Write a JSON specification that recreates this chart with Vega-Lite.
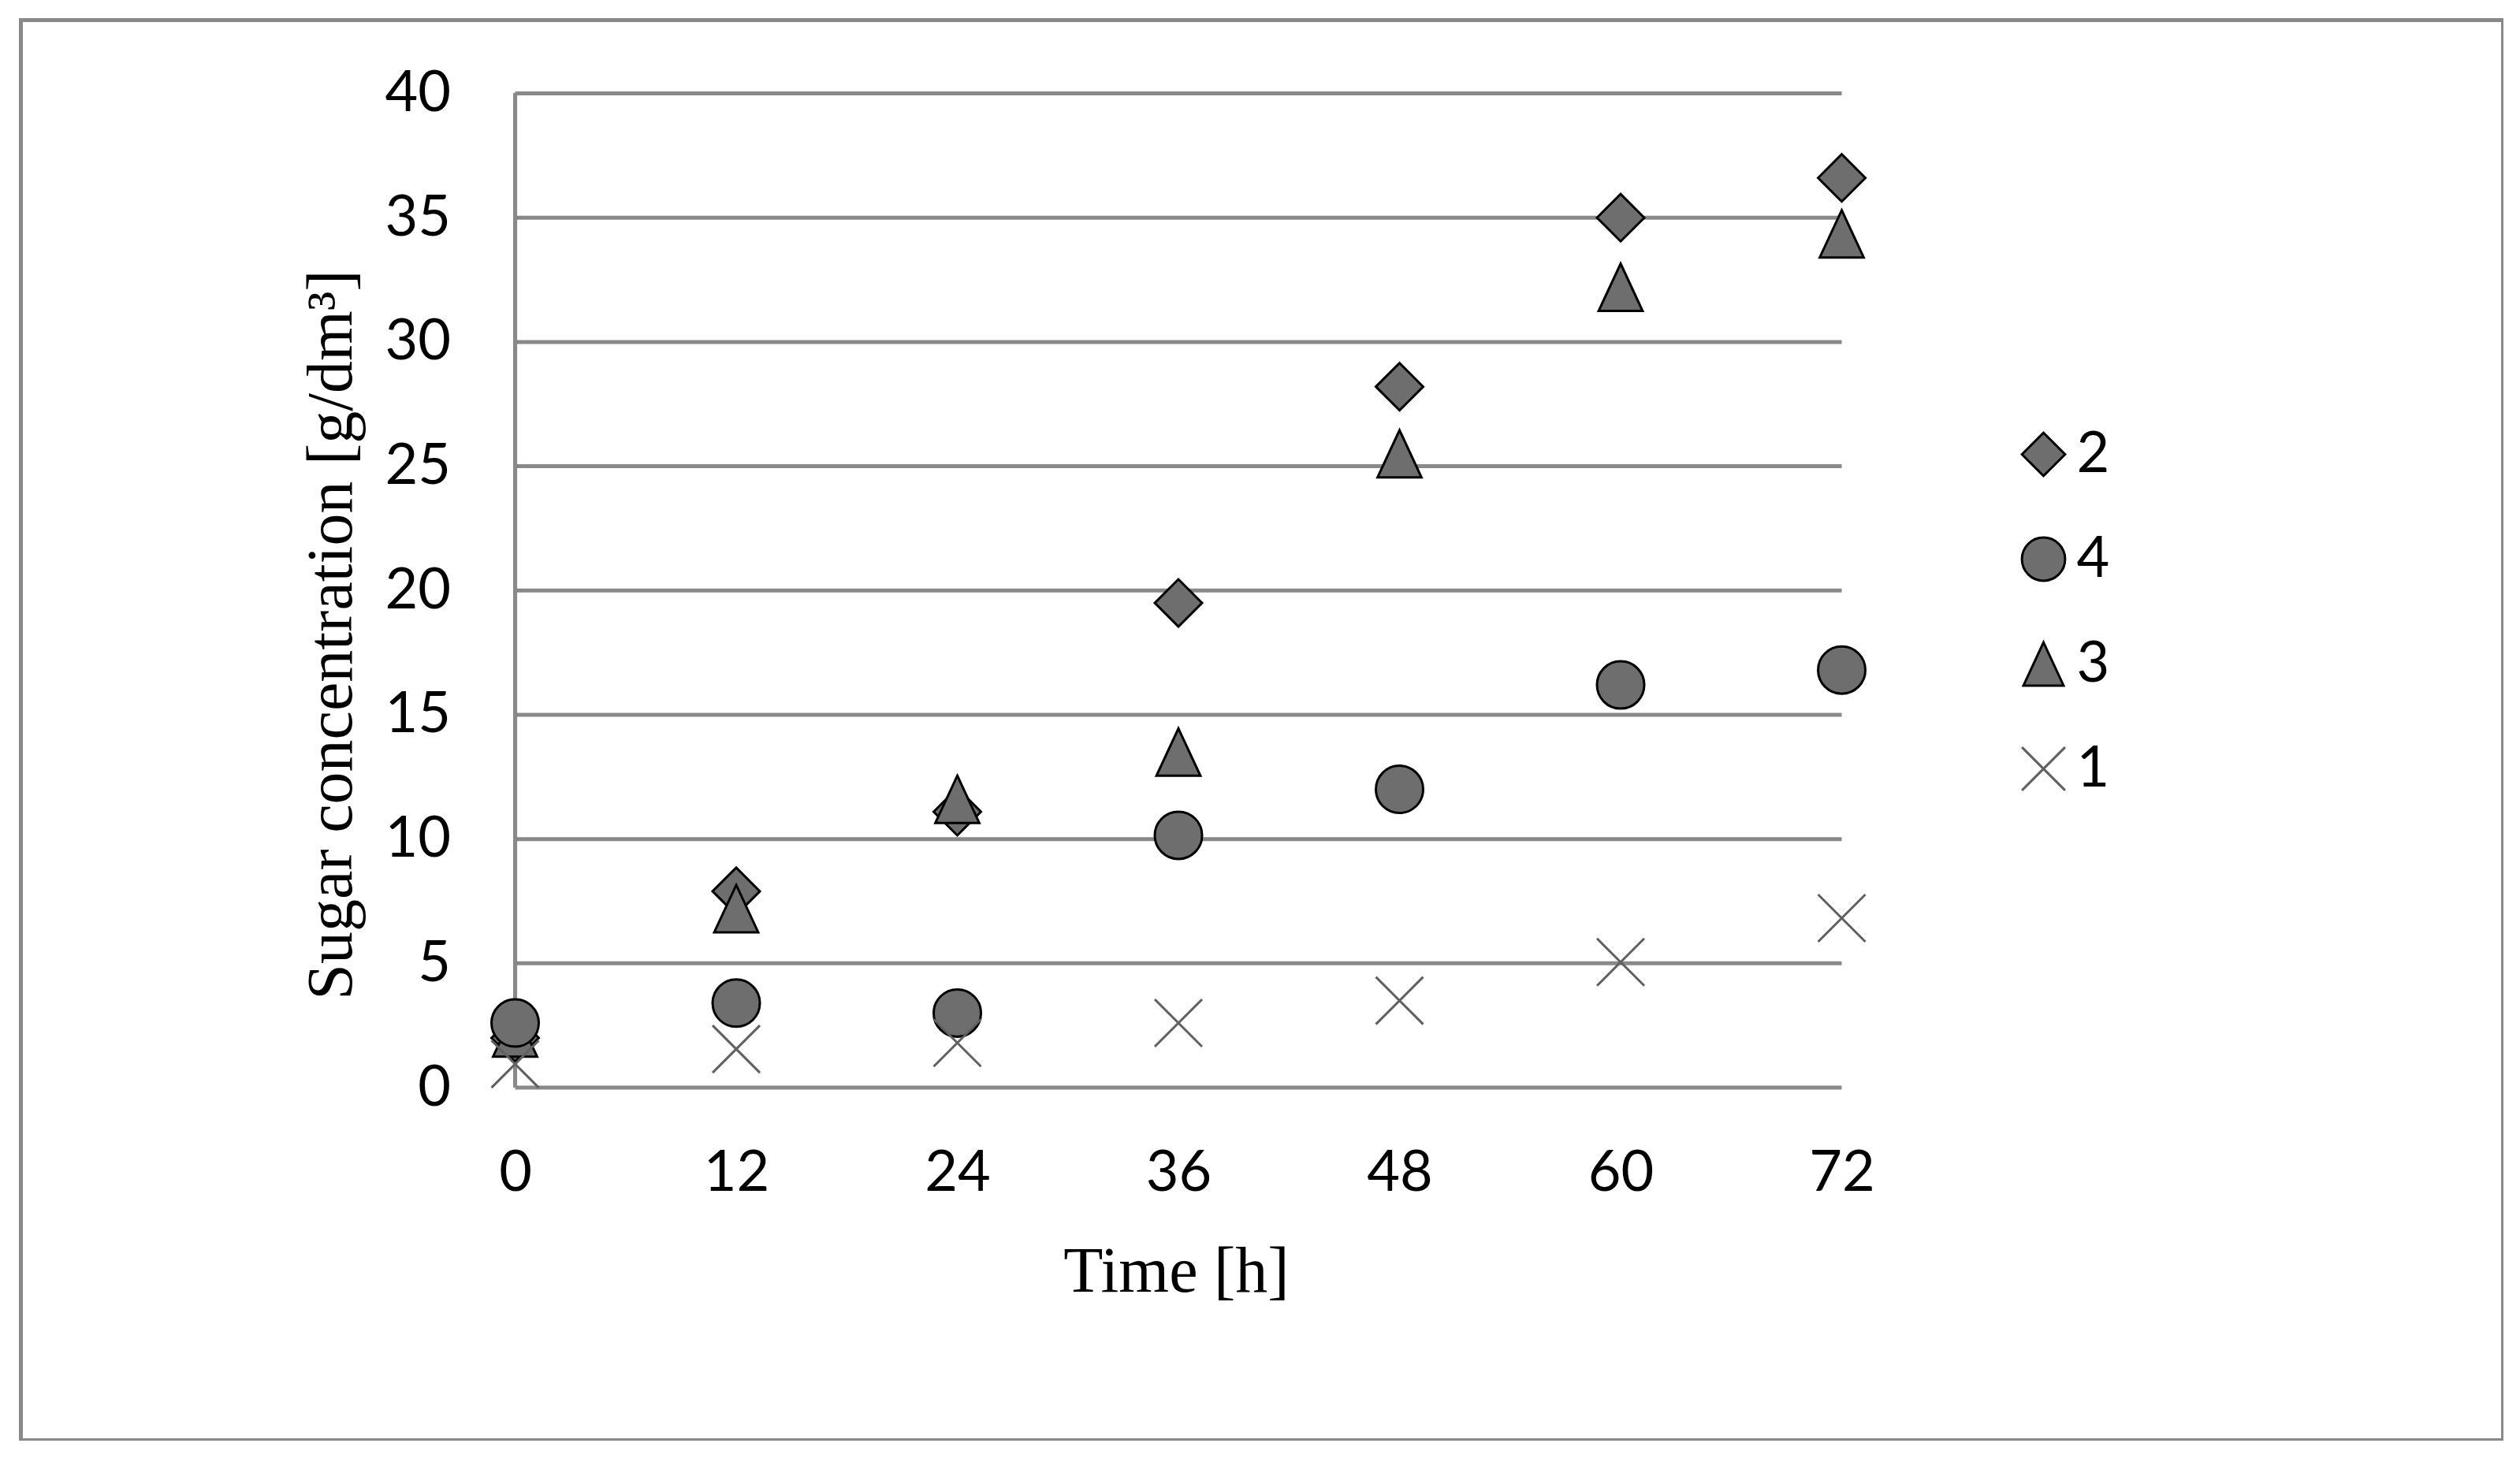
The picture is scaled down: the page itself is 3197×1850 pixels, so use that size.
{
  "$schema": "https://vega.github.io/schema/vega-lite/v6.json",
  "autosize": {"type": "none"},
  "padding": {"left": 26.5, "top": 25.5, "right": 0, "bottom": 0},
  "width": 3149,
  "height": 1802,
  "background": "white",
  "config": {
    "view": {"stroke": "#898989", "strokeWidth": 5},
    "axis": {"labelFont": "Lato", "labelFontSize": 72, "labelColor": "black", "titleFont": "Liberation Serif", "titleFontSize": 82, "titleFontWeight": "normal", "titleColor": "black"}
  },
  "datasets": {
    "grid": [{"v": 0}, {"v": 5}, {"v": 10}, {"v": 15}, {"v": 20}, {"v": 25}, {"v": 30}, {"v": 35}, {"v": 40}],
    "obs": [
      {"t": 0, "s": "2", "v": 2.0}, {"t": 12, "s": "2", "v": 7.9}, {"t": 24, "s": "2", "v": 11.1}, {"t": 36, "s": "2", "v": 19.5}, {"t": 48, "s": "2", "v": 28.2}, {"t": 60, "s": "2", "v": 35.0}, {"t": 72, "s": "2", "v": 36.6},
      {"t": 0, "s": "3", "v": 2.2}, {"t": 12, "s": "3", "v": 7.2}, {"t": 24, "s": "3", "v": 11.6}, {"t": 36, "s": "3", "v": 13.5}, {"t": 48, "s": "3", "v": 25.5}, {"t": 60, "s": "3", "v": 32.2}, {"t": 72, "s": "3", "v": 34.35},
      {"t": 0, "s": "4", "v": 2.6}, {"t": 12, "s": "4", "v": 3.4}, {"t": 24, "s": "4", "v": 3.0}, {"t": 36, "s": "4", "v": 10.15}, {"t": 48, "s": "4", "v": 12.0}, {"t": 60, "s": "4", "v": 16.2}, {"t": 72, "s": "4", "v": 16.8},
      {"t": 0, "s": "1", "v": 0.95}, {"t": 12, "s": "1", "v": 1.55}, {"t": 24, "s": "1", "v": 1.8}, {"t": 36, "s": "1", "v": 2.6}, {"t": 48, "s": "1", "v": 3.5}, {"t": 60, "s": "1", "v": 5.05}, {"t": 72, "s": "1", "v": 6.82}
    ]
  },
  "layer": [
    {
      "data": {"name": "obs"},
      "mark": {"type": "point", "strokeWidth": 3, "opacity": 0},
      "encoding": {
        "x": {
          "field": "t", "type": "quantitative",
          "scale": {"domain": [-26.824, 107.893], "nice": false, "zero": false},
          "axis": {"title": "Time [h]", "orient": "bottom", "offset": -447.5, "domain": false, "ticks": false, "tickSize": 0, "grid": false, "values": [0, 12, 24, 36, 48, 60, 72], "labelPadding": 108, "labelBaseline": "middle", "labelFlush": false, "labelOverlap": false, "titleX": 1465.5, "titleY": 258, "titleBaseline": "alphabetic", "titleAlign": "center", "titleAnchor": null}
        },
        "y": {
          "field": "v", "type": "quantitative",
          "scale": {"domain": [-14.188, 42.949], "nice": false, "zero": false},
          "axis": {"title": "Sugar concentration [g/dm³]", "orient": "left", "offset": -627, "domain": false, "ticks": false, "tickSize": 0, "grid": false, "values": [0, 5, 10, 15, 20, 25, 30, 35, 40], "labelPadding": 82, "labelBaseline": "middle", "labelFlush": false, "labelOverlap": false, "titleX": -208, "titleY": 779.5, "titleAngle": -90, "titleBaseline": "alphabetic", "titleAlign": "center", "titleAnchor": null}
        }
      }
    },
    {
      "data": {"name": "grid"},
      "mark": {"type": "rule", "color": "#898989", "strokeWidth": 5},
      "encoding": {
        "y": {"field": "v", "type": "quantitative"},
        "x": {"datum": 0, "type": "quantitative"},
        "x2": {"datum": 72}
      }
    },
    {
      "data": {"name": "grid"},
      "mark": {"type": "rule", "color": "#898989", "strokeWidth": 5},
      "encoding": {
        "x": {"datum": 0, "type": "quantitative"},
        "y": {"datum": 0, "type": "quantitative"},
        "y2": {"datum": 40}
      }
    },
    {
      "data": {"name": "obs"},
      "mark": {"type": "point", "strokeWidth": 3, "opacity": 1, "size": 3600},
      "encoding": {
        "x": {"field": "t", "type": "quantitative"},
        "y": {"field": "v", "type": "quantitative"},
        "shape": {
          "field": "s", "type": "nominal",
          "scale": {"domain": ["2", "4", "3", "1"], "range": ["diamond", "circle", "M0,-1L0.93,1L-0.93,1Z", "M-1,-1L1,1M-1,1L1,-1"]},
          "legend": {"title": null, "orient": "none", "legendX": 2530, "legendY": 515, "direction": "vertical", "padding": 0, "labelFont": "Lato", "labelFontSize": 72, "labelColor": "black", "labelOffset": 6, "symbolSize": 3000, "symbolStrokeWidth": 3, "rowPadding": 61}
        },
        "fill": {
          "field": "s", "type": "nominal",
          "scale": {"domain": ["2", "4", "3", "1"], "range": ["#6e6e6e", "#6e6e6e", "#6e6e6e", "transparent"]},
          "legend": {"title": null, "orient": "none", "legendX": 2530, "legendY": 515, "direction": "vertical", "padding": 0, "labelFont": "Lato", "labelFontSize": 72, "labelColor": "black", "labelOffset": 6, "symbolSize": 3000, "symbolStrokeWidth": 3, "rowPadding": 61}
        },
        "stroke": {
          "field": "s", "type": "nominal",
          "scale": {"domain": ["2", "4", "3", "1"], "range": ["#000000", "#000000", "#000000", "#606060"]},
          "legend": {"title": null, "orient": "none", "legendX": 2530, "legendY": 515, "direction": "vertical", "padding": 0, "labelFont": "Lato", "labelFontSize": 72, "labelColor": "black", "labelOffset": 6, "symbolSize": 3000, "symbolStrokeWidth": 3, "rowPadding": 61}
        }
      }
    }
  ]
}
